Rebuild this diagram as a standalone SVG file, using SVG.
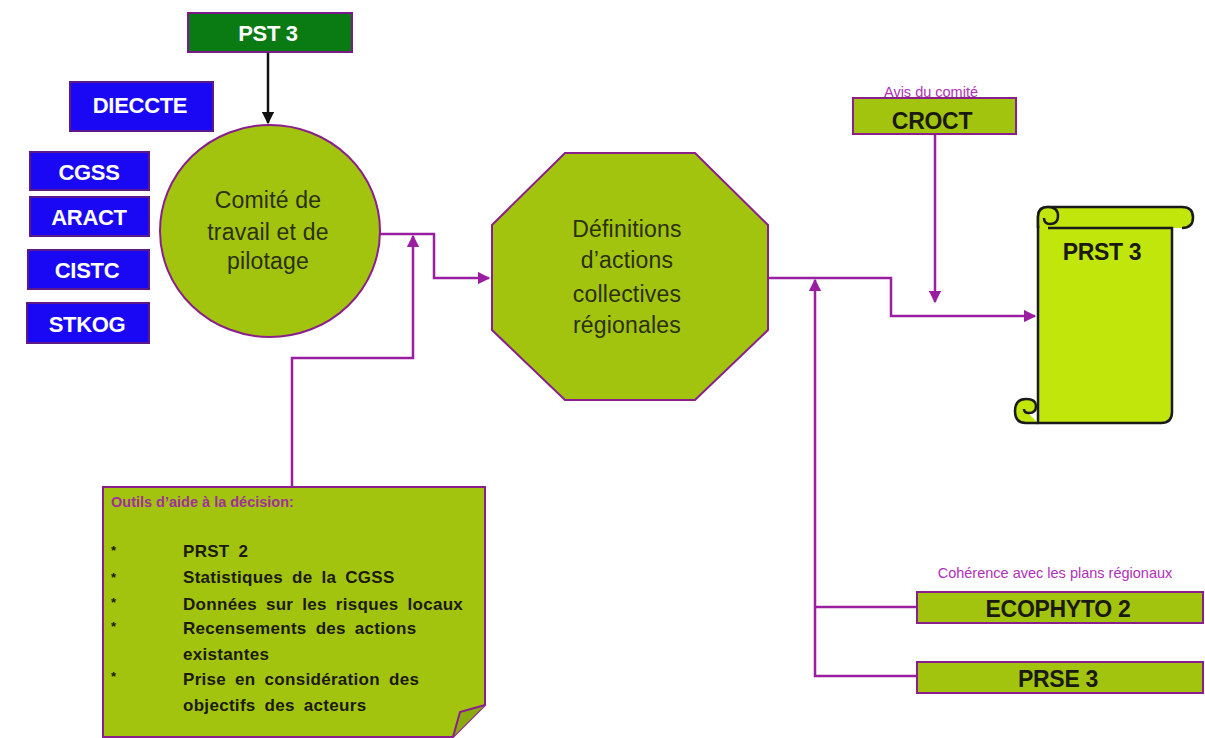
<svg xmlns="http://www.w3.org/2000/svg" width="1205" height="738" viewBox="0 0 1205 738">
<style>
.g{fill:#a3c40e;stroke:#8a1f8c;stroke-width:2}
.b{fill:#1a08f5;stroke:#5a1a8a;stroke-width:2}
.w{font-family:"Liberation Sans",Arial,sans-serif;font-weight:bold;fill:#fff;text-anchor:middle;font-size:22px;letter-spacing:-0.3px}
.k{font-family:"Liberation Sans",Arial,sans-serif;font-weight:bold;fill:#1a1a10;text-anchor:middle;font-size:23px;letter-spacing:-0.3px}
.r{font-family:"Liberation Sans",Arial,sans-serif;fill:#2a3010;text-anchor:middle;font-size:23px;letter-spacing:0.2px}
.p{font-family:"Liberation Sans",Arial,sans-serif;fill:#b030b8;text-anchor:middle;font-size:14.5px}
.c{fill:none;stroke:#9a1fa0;stroke-width:2.5}
.n{font-family:"Liberation Sans",Arial,sans-serif;font-weight:bold;fill:#1a1a10;font-size:17px;letter-spacing:0.3px;word-spacing:4px}
</style>
<defs>
<marker id="ap" viewBox="0 0 10 10" refX="9" refY="5" markerWidth="5" markerHeight="5" orient="auto"><path d="M0,0L10,5L0,10z" fill="#9a1fa0"/></marker>
<marker id="ak" viewBox="0 0 10 10" refX="9" refY="5" markerWidth="5" markerHeight="5" orient="auto"><path d="M0,0L10,5L0,10z" fill="#111"/></marker>
</defs>
<rect width="1205" height="738" fill="#fff"/>
<g id="connectors">
<path d="M268,52V123" fill="none" stroke="#111" stroke-width="2.5" marker-end="url(#ak)"/>
<path class="c" d="M380,234H434V278H489" marker-end="url(#ap)"/>
<path class="c" d="M292,487V358H413V236" marker-end="url(#ap)"/>
<path class="c" d="M768,278H891V316H1035" marker-end="url(#ap)"/>
<path class="c" d="M935,134V302" marker-end="url(#ap)"/>
<path class="c" d="M917,676H815V280" marker-end="url(#ap)"/>
<path class="c" d="M815,607H917"/>
</g>
<g id="pst3">
<rect x="188" y="13" width="164" height="39" fill="#0a7a12" stroke="#7a1a8a" stroke-width="2"/>
<text class="w" x="268" y="41">PST 3</text>
</g>
<g id="dieccte">
<rect class="b" x="70" y="82" width="143" height="49"/>
<text class="w" x="140" y="113">DIECCTE</text>
</g>
<g id="cgss">
<rect class="b" x="30" y="152" width="119" height="38"/>
<text class="w" x="89" y="180">CGSS</text>
</g>
<g id="aract">
<rect class="b" x="30" y="197" width="119" height="39"/>
<text class="w" x="89" y="225">ARACT</text>
</g>
<g id="cistc">
<rect class="b" x="28" y="250" width="121" height="39"/>
<text class="w" x="87" y="278">CISTC</text>
</g>
<g id="stkog">
<rect class="b" x="27" y="303" width="122" height="40"/>
<text class="w" x="87" y="332">STKOG</text>
</g>
<g id="comite">
<ellipse class="g" cx="270" cy="231" rx="110" ry="106"/>
<text class="r" x="268" y="208">Comité de</text>
<text class="r" x="268" y="240">travail et de</text>
<text class="r" x="268" y="269">pilotage</text>
</g>
<g id="definitions">
<polygon class="g" points="565,153 695,153 768,225 768,330 695,400 565,400 492,330 492,225"/>
<text class="r" x="627" y="237">Définitions</text>
<text class="r" x="627" y="268">d’actions</text>
<text class="r" x="627" y="302">collectives</text>
<text class="r" x="627" y="333">régionales</text>
</g>
<g id="croct">
<text class="p" x="931" y="97">Avis du comité</text>
<rect class="g" x="853" y="98" width="163" height="36"/>
<text class="k" x="932" y="129" font-size="22">CROCT</text>
</g>
<g id="prst3">
<path d="M1048,228H1172V412Q1172,423 1161,423H1038V217Q1038,207 1048,207H1182Q1193,207 1193,217.5Q1193,228 1182,228" fill="#c0e60c" stroke="#1a1a1a" stroke-width="2.5"/>
<path d="M1038,228V217Q1038,207 1048,207Q1058,207 1058,216Q1058,224 1050,224Q1044,224 1044,218" fill="#c0e60c" stroke="#1a1a1a" stroke-width="2.5"/>
<path d="M1038,423H1026Q1015,423 1015,411Q1015,399 1026,399Q1036,399 1036,406Q1036,413 1029,413Q1024,413 1024,409" fill="#c0e60c" stroke="#1a1a1a" stroke-width="2.5"/>
<text class="k" x="1102" y="260" font-size="22">PRST 3</text>
</g>
<g id="ecophyto">
<text class="p" x="1055" y="578">Cohérence avec les plans régionaux</text>
<rect class="g" x="917" y="592" width="286" height="31"/>
<text class="k" x="1058" y="617">ECOPHYTO 2</text>
</g>
<g id="prse3">
<rect class="g" x="917" y="662" width="286" height="31"/>
<text class="k" x="1058" y="687">PRSE 3</text>
</g>
<g id="outils">
<path class="g" d="M103,487H485V705L453,737H103Z"/>
<path d="M453,737L460,712L485,705" fill="#8aaa10" stroke="#8a1f8c" stroke-width="2"/>
<text x="111" y="507" font-family="Liberation Sans,Arial,sans-serif" font-weight="bold" font-size="14.5" fill="#a0309a">Outils d’aide à la décision:</text>
<g class="n">
<text x="111" y="555" font-size="13">*</text>
<text x="111" y="582" font-size="13">*</text>
<text x="111" y="607" font-size="13">*</text>
<text x="111" y="631" font-size="13">*</text>
<text x="111" y="681" font-size="13">*</text>
<text x="183" y="557">PRST 2</text>
<text x="183" y="583">Statistiques de la CGSS</text>
<text x="183" y="610">Données sur les risques locaux</text>
<text x="183" y="634">Recensements des actions</text>
<text x="183" y="660">existantes</text>
<text x="183" y="685">Prise en considération des</text>
<text x="183" y="711">objectifs des acteurs</text>
</g>
</g>
</svg>
